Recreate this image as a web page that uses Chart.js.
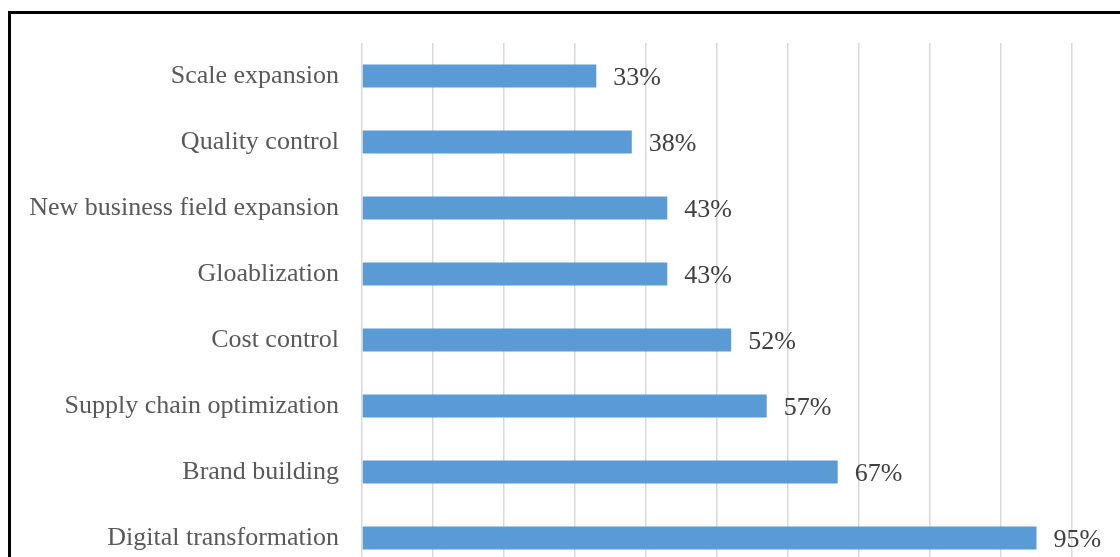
<!DOCTYPE html>
<html>
<head>
<meta charset="utf-8">
<script src="https://cdn.jsdelivr.net/npm/chart.js@4"></script>
<style>
  html, body { margin: 0; padding: 0; background: #fff; overflow: hidden; width: 1120px; height: 557px; }
  #frame { position: absolute; left: 8px; top: 11px; width: 1140px; height: 640px; border: 3px solid #000; background: #fff; }
  #chartBar { display: block; }
</style>
</head>
<body>
<div id="frame"><canvas id="chartBar" width="1110" height="600"></canvas></div>
<script>
// Goals named by companies (share of answers, %)
var categories = [
  'Scale expansion',
  'Quality control',
  'New business field expansion',
  'Gloablization',
  'Cost control',
  'Supply chain optimization',
  'Brand building',
  'Digital transformation'
];
var shares = [33, 38, 43, 43, 52, 57, 67, 95];
var xTicks = [0, 10, 20, 30, 40, 50, 60, 70, 80, 90, 100];

// labels "33%" at the end of each bar
var valueLabels = {
  id: 'valueLabels',
  afterDatasetsDraw: function (chart) {
    var c = chart.ctx;
    var meta = chart.getDatasetMeta(0);
    c.save();
    c.font = '26px "Liberation Serif", "Times New Roman", serif';
    c.fillStyle = '#404040';
    c.textAlign = 'left';
    c.textBaseline = 'middle';
    meta.data.forEach(function (bar, i) {
      c.fillText(shares[i] + '%', bar.x + 17, bar.y + 2);
    });
    c.restore();
  }
};

var ctx = document.getElementById('chartBar');

var chartBar = new Chart(ctx, {
  type: 'bar',
  data: {
    labels: categories,
    datasets: [{
      data: shares,
      backgroundColor: '#5B9BD5',
      borderWidth: 0,
      categoryPercentage: 1,
      barPercentage: 0.35
    }]
  },
  options: {
    indexAxis: 'y',
    responsive: false,
    animation: false,
    layout: { padding: { top: 29, right: 49, bottom: 43, left: 0 } },
    plugins: {
      legend: { display: false },
      tooltip: { enabled: false }
    },
    scales: {
      x: {
        min: 0,
        max: 100,
        afterBuildTicks: function (scale) {
          scale.ticks = xTicks.map(function (v) { return { value: v }; });
        },
        afterFit: function (scale) { scale.height = 0; },
        ticks: { display: false },
        grid: { color: '#d9d9d9', lineWidth: 1.5, drawTicks: false },
        border: { display: false }
      },
      y: {
        afterFit: function (scale) {
          scale.width = 351;
          // no extra room for the first/last label, the layout padding decides
          scale.paddingTop = 0;
          scale.paddingBottom = 0;
        },
        ticks: {
          padding: 23,
          color: '#595959',
          font: { family: '"Liberation Serif", "Times New Roman", serif', size: 26 }
        },
        grid: { display: false, drawTicks: false },
        border: { display: false }
      }
    }
  },
  plugins: [valueLabels]
});
</script>
</body>
</html>
